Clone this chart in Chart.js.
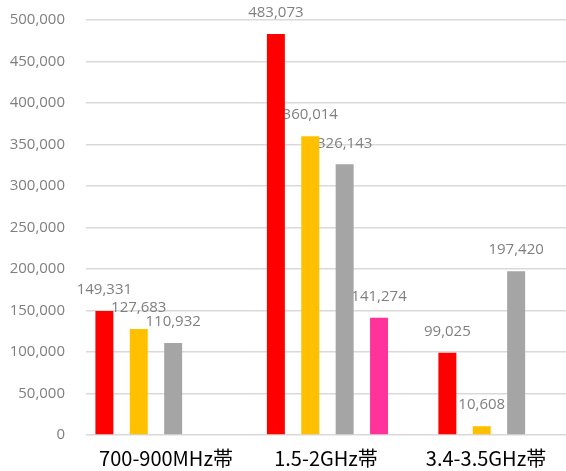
<!DOCTYPE html>
<html>
<head>
<meta charset="utf-8">
<script src="https://cdn.jsdelivr.net/npm/chart.js@4/dist/chart.umd.min.js"></script>
<style>
html, body { margin: 0; padding: 0; background: #fff; overflow: hidden; }
</style>
</head>
<body>
<canvas id="barChart" width="566" height="471"></canvas>
<script>
const categories = ['700-900MHz帯', '1.5-2GHz帯', '3.4-3.5GHz帯'];
const redValues = [149331, 483073, 99025];
const yellowValues = [127683, 360014, 10608];
const grayValues = [110932, 326143, 197420];
const pinkValues = [null, 141274, null];
const yTickStep = 50000;
const yMax = 500000;

// bars sit on a numeric index axis, the names are shown by a separate category axis
const toPoints = (arr) => arr.map((v, i) => ({ x: i, y: v }));

const barLabels = {
    id: 'barLabels',
    beforeDatasetsDraw(chart) {
        const ctx = chart.ctx;
        ctx.save();
        ctx.font = '15px "Open Sans"';
        ctx.fillStyle = '#7f7f7f';
        ctx.textAlign = 'center';
        ctx.textBaseline = 'middle';
        chart.data.datasets.forEach((ds, di) => {
            chart.getDatasetMeta(di).data.forEach((bar, i) => {
                const v = ds.data[i].y;
                if (v == null) return;
                ctx.fillText(v.toLocaleString('en-US'), bar.x, bar.y - 21);
            });
        });
        ctx.restore();
    }
};

const ctx = document.getElementById('barChart').getContext('2d');
new Chart(ctx, {
    type: 'bar',
    data: {
        datasets: [
            { label: 'red', data: toPoints(redValues), backgroundColor: '#ff0000' },
            { label: 'yellow', data: toPoints(yellowValues), backgroundColor: '#ffc000' },
            { label: 'gray', data: toPoints(grayValues), backgroundColor: '#a5a5a5' },
            { label: 'pink', data: toPoints(pinkValues), backgroundColor: '#ff3399' }
        ]
    },
    options: {
        responsive: false,
        animation: false,
        devicePixelRatio: 1,
        categoryPercentage: 0.802,
        barPercentage: 0.523,
        layout: { padding: { top: 20, right: 0, left: 0, bottom: 0 } },
        plugins: {
            legend: { display: false },
            tooltip: { enabled: false }
        },
        scales: {
            x: {
                type: 'linear',
                display: false,
                offset: false,
                min: -0.408,
                max: 2.391,
                afterBuildTicks: (axis) => {
                    axis.ticks = categories.map((c, i) => ({ value: i }));
                }
            },
            xCat: {
                type: 'category',
                position: 'bottom',
                labels: categories,
                offset: true,
                grid: { display: false, drawTicks: false },
                border: { display: false },
                ticks: {
                    color: '#000000',
                    padding: 11,
                    font: { family: '"Noto Sans CJK JP"', size: 20 }
                },
                afterFit: (axis) => { axis.height = 36; }
            },
            y: {
                min: 0,
                max: yMax,
                grid: { color: '#d9d9d9', lineWidth: 1.5, drawTicks: false },
                border: { display: false },
                ticks: {
                    stepSize: yTickStep,
                    padding: 21,
                    color: '#7f7f7f',
                    font: { family: '"Open Sans"', size: 15 },
                    callback: (v) => v.toLocaleString('en-US')
                },
                afterFit: (axis) => {
                    axis.width = 86;
                    axis.paddingTop = 0;
                    axis.paddingBottom = 0;
                }
            }
        }
    },
    plugins: [barLabels]
});
</script>
</body>
</html>
